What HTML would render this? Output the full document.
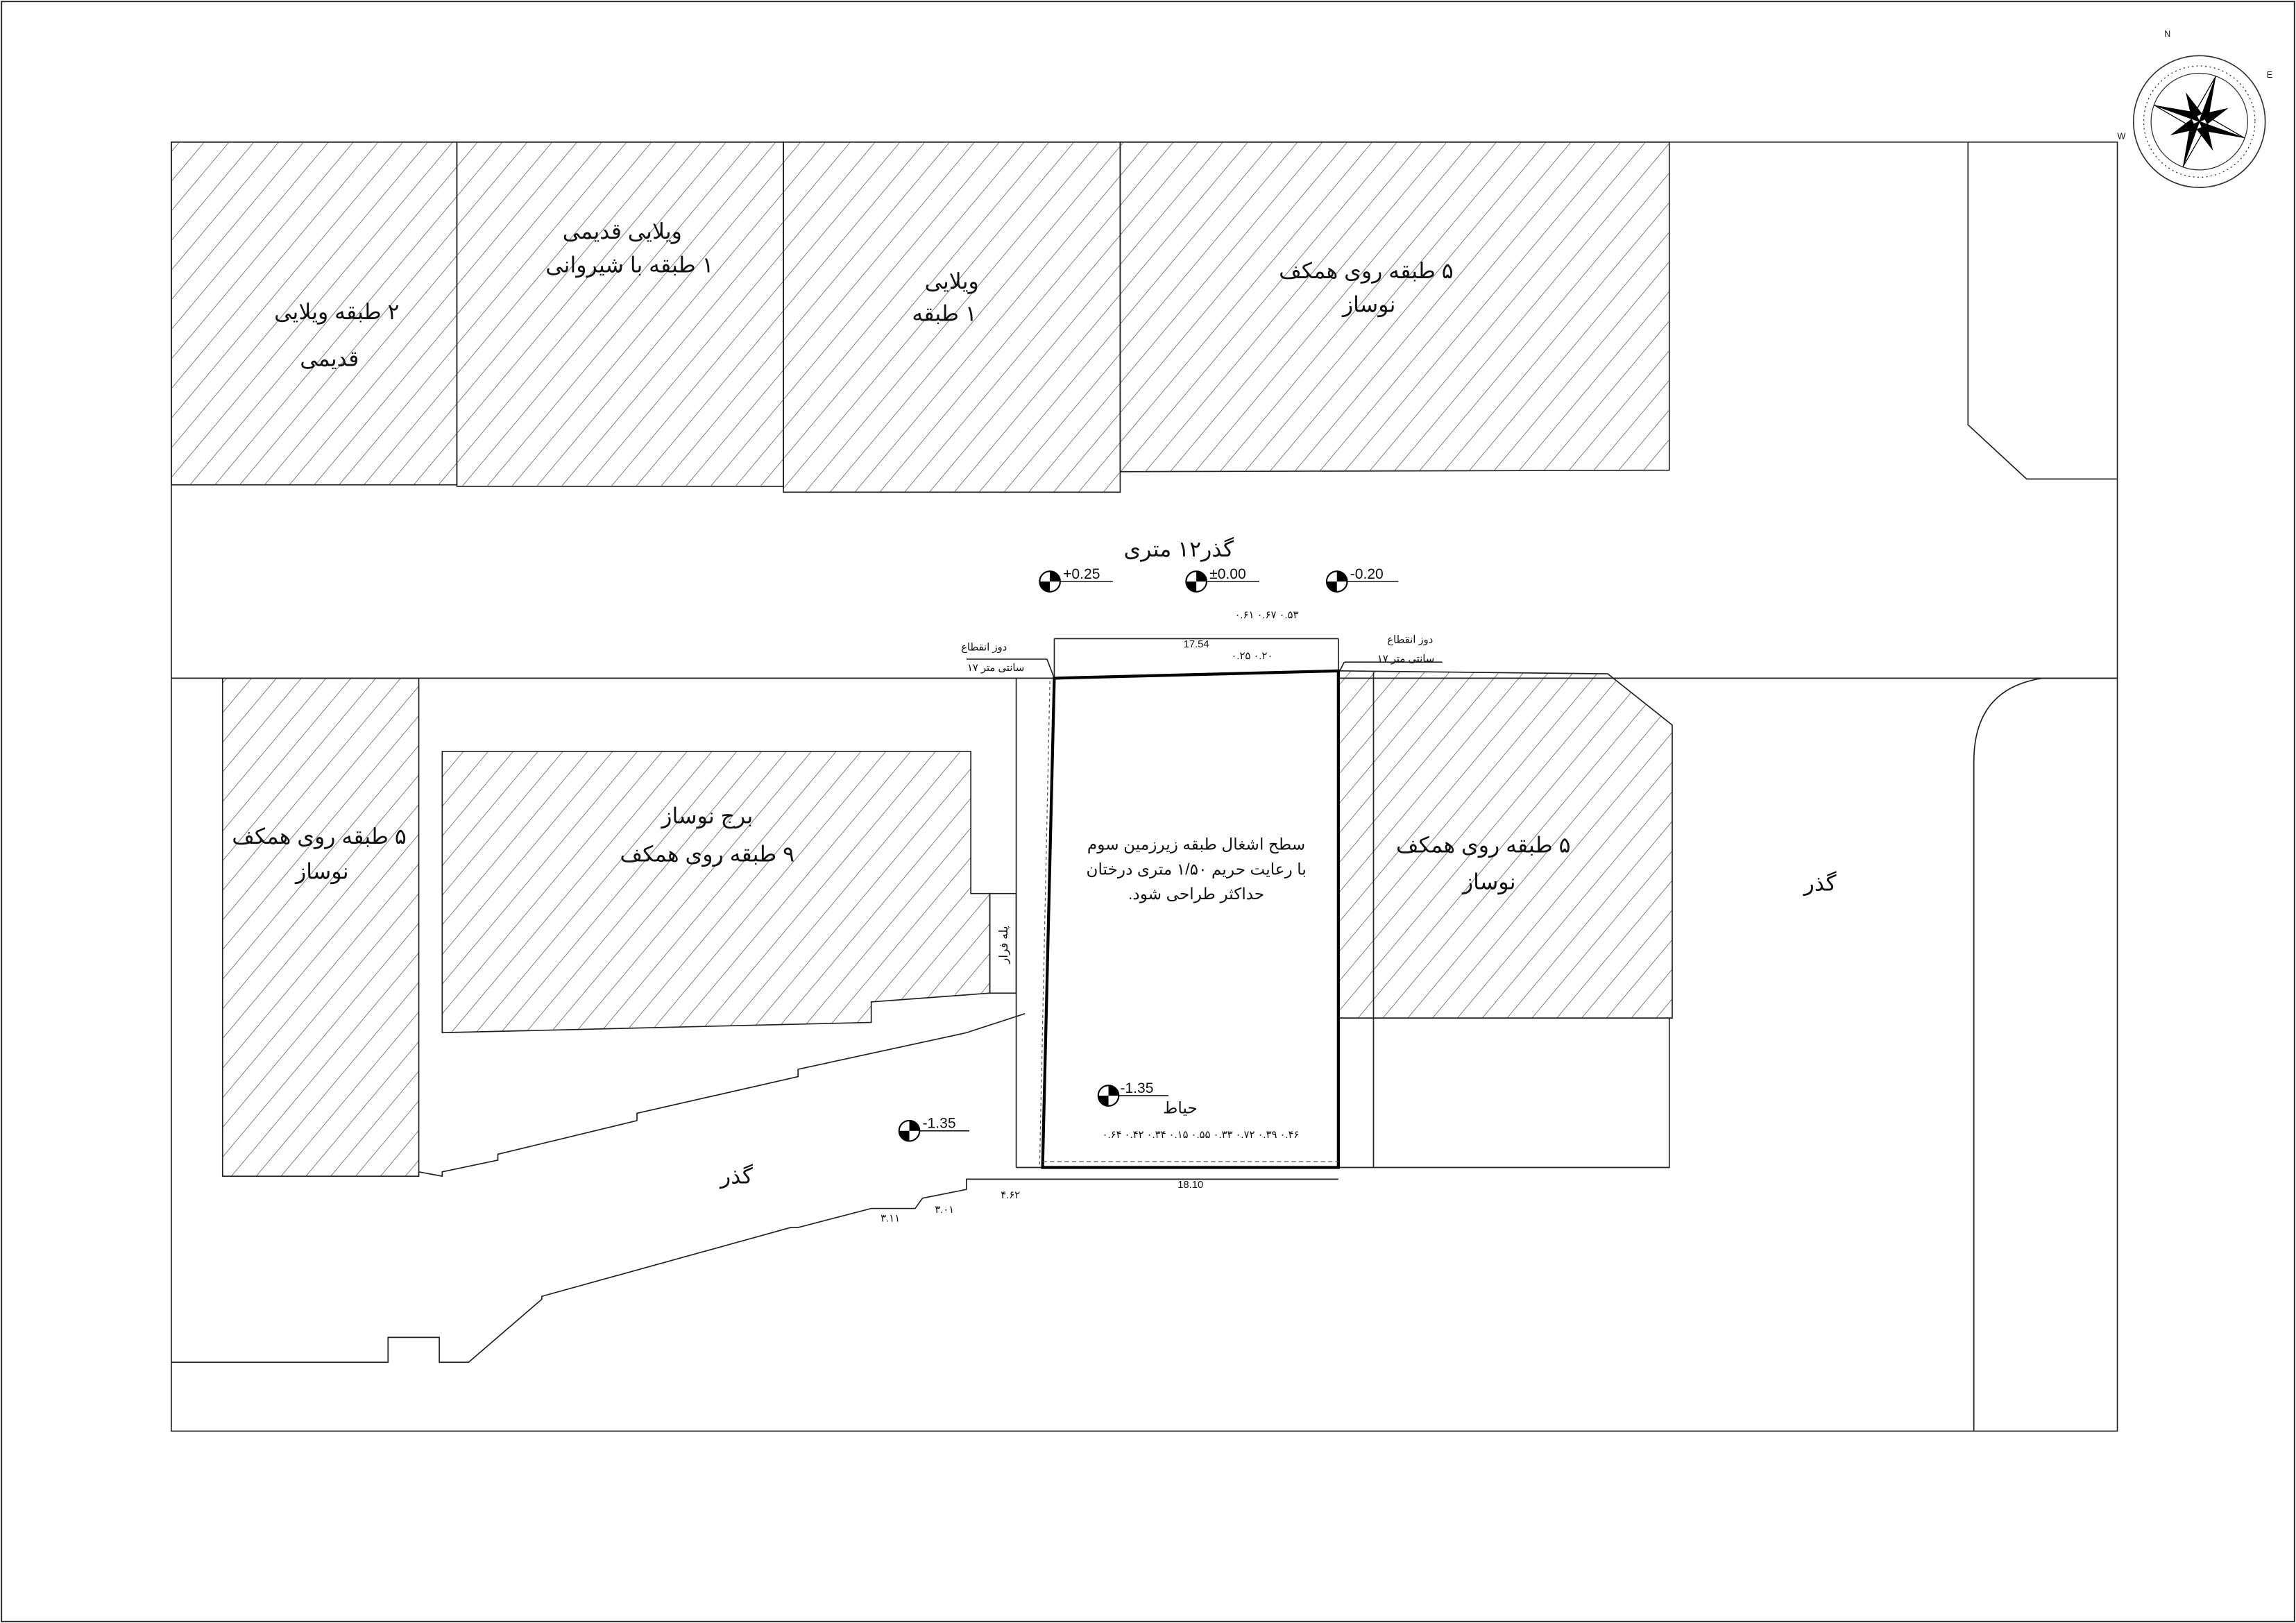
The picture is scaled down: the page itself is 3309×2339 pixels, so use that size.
<!DOCTYPE html>
<html><head><meta charset="utf-8"><style>
html,body{margin:0;padding:0;background:#fff}
svg{display:block}
text{font-family:"Liberation Sans","Noto Sans CJK SC",sans-serif;fill:#111}
</style></head><body>
<svg width="3309" height="2339" viewBox="0 0 1568 1108" preserveAspectRatio="none" xmlns="http://www.w3.org/2000/svg">
<defs>
<pattern id="h" patternUnits="userSpaceOnUse" width="13" height="13" patternTransform="rotate(40)">
<line x1="0" y1="0" x2="0" y2="13" stroke="#555" stroke-width="0.7"/>
</pattern>
<g id="mk"><circle r="7" fill="#fff" stroke="#000" stroke-width="1"/><path d="M0 0 L0 -7 A7 7 0 0 1 7 0Z M0 0 L0 7 A7 7 0 0 1 -7 0Z" fill="#000"/></g>
</defs>
<rect x="1" y="1" width="1566" height="1106" fill="none" stroke="#333" stroke-width="1"/>
<g fill="none" stroke="#222" stroke-width="0.8">
<rect x="117" y="97" width="1329" height="880"/>
</g>
<g fill="url(#h)" stroke="#222" stroke-width="0.8">
<rect x="117" y="97" width="195" height="234"/>
<rect x="312" y="97" width="223" height="235"/>
<rect x="535" y="97" width="230" height="239"/>
<polygon points="765,97 1140,97 1140,321 765,322"/>
<rect x="152" y="463" width="134" height="340"/>
<polygon points="302,513 663,513 663,610 676,610 676,678 595,684 595,698 302,705"/>
<polygon points="914,458 1098,460 1142,495 1142,695 914,695"/>
</g>
<g fill="none" stroke="#222" stroke-width="0.8">
<polyline points="1344,97 1344,290 1384,327 1446,327"/>
<line x1="117" y1="463" x2="720" y2="463"/>
<line x1="914" y1="463" x2="1446" y2="463"/>
<path d="M1446,463 L1395,463 Q1348,470 1348,520 L1348,977"/>
<rect x="676" y="610" width="18" height="68"/>
<line x1="938" y1="459" x2="938" y2="797"/>
<polyline points="914,797 1140,797 1140,695"/>
<polyline points="286,800 302,803 302,800 340,792 340,788 435,765 435,760 545,735 545,730 660,705 700,692"/>
<polyline points="117,930 265,930 265,913 300,913 300,930 320,930 370,887 370,885 540,838 545,838 595,825 625,825 630,818 660,812 660,805 712,805"/>
<line x1="694" y1="463" x2="694" y2="797"/>
<line x1="694" y1="797" x2="712" y2="797"/>
<line x1="720" y1="436" x2="914" y2="436"/>
<line x1="720" y1="436" x2="720" y2="463"/>
<line x1="914" y1="436" x2="914" y2="458"/>
<line x1="712" y1="805" x2="914" y2="805"/>
<line x1="660" y1="450" x2="715" y2="450"/>
<line x1="715" y1="450" x2="720" y2="463"/>
<line x1="918" y1="452" x2="985" y2="452"/>
<line x1="918" y1="452" x2="914" y2="460"/>
</g>
<polygon points="720,463 914,458 914,797 712,797" fill="none" stroke="#000" stroke-width="2"/>
<line x1="717" y1="465" x2="710" y2="795" stroke="#555" stroke-width="0.6" stroke-dasharray="2,2"/>
<line x1="712" y1="793" x2="914" y2="793" stroke="#555" stroke-width="0.6" stroke-dasharray="3,2"/>
<g text-anchor="middle" font-size="15" direction="rtl">
<text x="230" y="218">۲ طبقه ویلایی</text>
<text x="225" y="250">قدیمی</text>
<text x="425" y="163">ویلایی قدیمی</text>
<text x="430" y="186">۱ طبقه با شیروانی</text>
<text x="650" y="197">ویلایی</text>
<text x="645" y="219">۱ طبقه</text>
<text x="933" y="190">۵ طبقه روی همکف</text>
<text x="935" y="213">نوساز</text>
<text x="805" y="380">گذر۱۲ متری</text>
<text x="218" y="576">۵ طبقه روی همکف</text>
<text x="220" y="600">نوساز</text>
<text x="483" y="562">برج نوساز</text>
<text x="483" y="588">۹ طبقه روی همکف</text>
<text x="1013" y="582">۵ طبقه روی همکف</text>
<text x="1017" y="607">نوساز</text>
<text x="1243" y="608">گذر</text>
<text x="503" y="808">گذر</text>
</g>
<g text-anchor="middle" font-size="11" direction="rtl">
<text x="817" y="580">سطح اشغال طبقه زیرزمین سوم</text>
<text x="817" y="597">با رعایت حریم ۱/۵۰ متری درختان</text>
<text x="817" y="614">حداکثر طراحی شود.</text>
<text x="806" y="760">حیاط</text>
</g>
<g font-size="7" text-anchor="middle">
<text x="672" y="444">دوز انقطاع</text>
<text x="680" y="458">۱۷ سانتی متر</text>
<text x="963" y="439">دوز انقطاع</text>
<text x="960" y="452">۱۷ سانتی متر</text>
<text x="817" y="442">17.54</text>
<text x="813" y="811">18.10</text>
<text x="690" y="818">۴.۶۲</text>
<text x="645" y="828">۳.۰۱</text>
<text x="608" y="834">۳.۱۱</text>
<text x="855" y="450">۰.۲۵ ۰.۲۰</text>
<text x="820" y="777">۰.۶۴ ۰.۴۲ ۰.۳۴ ۰.۱۵ ۰.۵۵ ۰.۳۳ ۰.۷۲ ۰.۳۹ ۰.۴۶</text>
<text x="865" y="422">۰.۶۱   ۰.۶۷   ۰.۵۳</text>
</g>
<text x="688" y="645" font-size="8" transform="rotate(-90 688 645)" text-anchor="middle">پله فرار</text>
<g font-size="10">
<use href="#mk" x="717" y="397"/><line x1="724" y1="397" x2="760" y2="397" stroke="#000" stroke-width="0.7"/><text x="726" y="395">+0.25</text>
<use href="#mk" x="817" y="397"/><line x1="824" y1="397" x2="860" y2="397" stroke="#000" stroke-width="0.7"/><text x="826" y="395">±0.00</text>
<use href="#mk" x="913" y="397"/><line x1="920" y1="397" x2="955" y2="397" stroke="#000" stroke-width="0.7"/><text x="922" y="395">-0.20</text>
<use href="#mk" x="757" y="748"/><line x1="764" y1="748" x2="798" y2="748" stroke="#000" stroke-width="0.7"/><text x="765" y="746">-1.35</text>
<use href="#mk" x="621" y="772"/><line x1="628" y1="772" x2="662" y2="772" stroke="#000" stroke-width="0.7"/><text x="630" y="770">-1.35</text>
</g>
<g transform="translate(1502,83)">
<circle r="45" fill="none" stroke="#333" stroke-width="0.8"/>
<circle r="38" fill="none" stroke="#333" stroke-width="0.6" stroke-dasharray="1,2"/>
<circle r="33" fill="none" stroke="#333" stroke-width="0.6"/>
<g transform="rotate(20)">
<polygon points="0,-33 5,-5 0,0" fill="#000"/><polygon points="0,-33 -5,-5 0,0" fill="#fff" stroke="#000" stroke-width="0.6"/>
<polygon points="0,33 -5,5 0,0" fill="#000"/><polygon points="0,33 5,5 0,0" fill="#fff" stroke="#000" stroke-width="0.6"/>
<polygon points="33,0 5,5 0,0" fill="#000"/><polygon points="33,0 5,-5 0,0" fill="#fff" stroke="#000" stroke-width="0.6"/>
<polygon points="-33,0 -5,-5 0,0" fill="#000"/><polygon points="-33,0 -5,5 0,0" fill="#fff" stroke="#000" stroke-width="0.6"/>
<g transform="rotate(45)">
<polygon points="0,-22 4,-4 -4,-4" fill="#000"/><polygon points="0,22 4,4 -4,4" fill="#000"/>
<polygon points="22,0 4,4 4,-4" fill="#000"/><polygon points="-22,0 -4,4 -4,-4" fill="#000"/>
</g>
</g>
<text x="-24" y="-58" font-size="6">N</text><text x="46" y="-30" font-size="6">E</text><text x="-56" y="12" font-size="6">W</text>
</g>
</svg>
</body></html>
